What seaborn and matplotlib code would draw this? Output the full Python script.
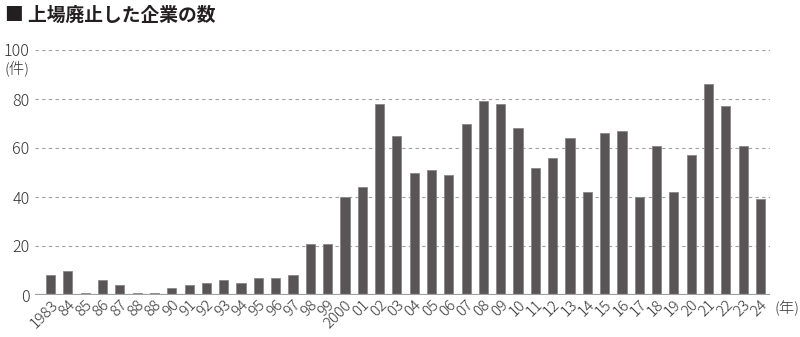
import matplotlib
matplotlib.use("Agg")
import matplotlib.pyplot as plt
import seaborn as sns
import pandas as pd

years = [str(y) for y in range(1983, 2025)]
tick_labels = ["1983", "84", "85", "86", "87", "88", "88", "90", "91", "92", "93", "94",
               "95", "96", "97", "98", "99", "2000", "01", "02", "03", "04", "05", "06",
               "07", "08", "09", "10", "11", "12", "13", "14", "15", "16", "17", "18",
               "19", "20", "21", "22", "23", "24"]
counts = [8, 10, 1, 6, 4, 1, 1, 3, 4, 5, 6, 5, 7, 7, 8, 21, 21, 40, 44, 78, 65, 50, 51, 49,
          70, 79, 78, 68, 52, 56, 64, 42, 66, 67, 40, 61, 42, 57, 86, 77, 61, 39]
y_ticks = [0, 20, 40, 60, 80, 100]

sns.set_theme(style="white")
plt.rcParams['font.family'] = ['Noto Sans CJK JP', 'DejaVu Sans']

df = pd.DataFrame({"year": years, "count": counts})

fig = plt.figure(figsize=(8, 3.37), dpi=100)
ax = fig.add_axes([35/800, 1 - 295/337, (770-35)/800, (295-50)/337])

sns.barplot(data=df, x="year", y="count", order=years, color="#595556",
            width=0.53, edgecolor="#8a8788", linewidth=0.6, saturation=1, ax=ax, zorder=3)

ax.set_xlim(-0.9, len(years) - 1 + 0.55)
ax.set_ylim(0, 100)
ax.set_yticks(y_ticks)
ax.set_yticklabels([str(v) for v in y_ticks], fontsize=11.5, color="#333333",
                   fontweight="light")
ax.set_xticks(range(len(years)))
ax.set_xticklabels(tick_labels, rotation=45, ha="right", va="top",
                   rotation_mode="anchor", fontsize=11, color="#333333",
                   fontweight="light")
ax.tick_params(axis="both", length=0, pad=4)
ax.tick_params(axis="x", pad=2)
ax.set_xlabel("")
ax.set_ylabel("")

for v in y_ticks[1:]:
    ax.axhline(v, color="#a0a0a0", lw=0.8, ls=(0, (3, 3)), zorder=1)
ax.axhline(0, color="#a0a0a0", lw=1.6, zorder=4)

for s in ax.spines.values():
    s.set_visible(False)

fig.text(4/800, 1 - 68/337, "(件)", fontsize=11, color="#333333", va="center", ha="left",
         fontweight="light")
fig.text(775/800, 1 - 308/337, "(年)", fontsize=11, color="#333333", va="center", ha="left",
         fontweight="light")
fig.text(5/800, 1 - 15/337, "■ 上場廃止した企業の数", fontsize=13.5, color="#231f20",
         va="center", ha="left", fontweight="bold")

fig.savefig("out.png", dpi=100)
